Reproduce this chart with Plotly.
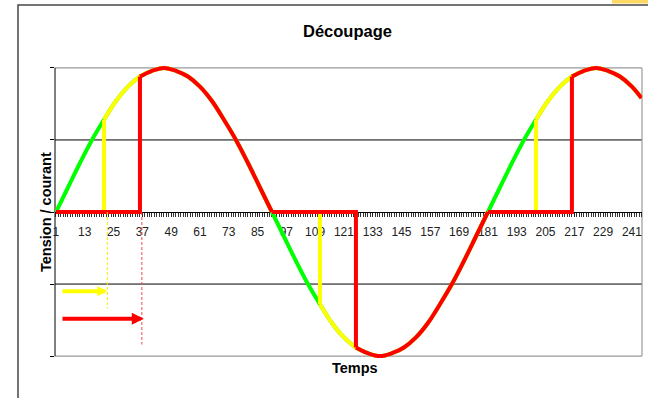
import plotly.graph_objects as go

# Onde de tension échantillonnée tous les 10° (5 catégories de temps)
temps = [1, 6, 11, 16, 21, 26, 31, 36, 41, 46, 51, 56, 61, 66, 71, 76, 81, 86,
         91, 96, 101, 106, 111, 116, 121, 126, 131, 136, 141, 146, 151, 156, 161, 166, 171, 176,
         181, 186, 191, 196, 201, 206, 211, 216, 221, 226, 231, 236, 241, 245]
tension = [0.00, 0.17, 0.34, 0.50, 0.64, 0.77, 0.87, 0.94, 0.98, 1.00, 0.98, 0.94, 0.87, 0.77, 0.64, 0.50, 0.34, 0.17,
           0.00, -0.17, -0.34, -0.50, -0.64, -0.77, -0.87, -0.94, -0.98, -1.00, -0.98, -0.94, -0.87, -0.77, -0.64, -0.50, -0.34, -0.17,
           0.00, 0.17, 0.34, 0.50, 0.64, 0.77, 0.87, 0.94, 0.98, 1.00, 0.98, 0.94, 0.87, 0.79]

# Graduations de l'axe des temps
graduations = [1, 13, 25, 37, 49, 61, 73, 85, 97, 109, 121, 133, 145, 157, 169, 181, 193, 205, 217, 229, 241]

DEMI_PERIODE = 90          # catégories par alternance
retard_jaune = 20          # amorçage à 40°
retard_rouge = 35          # amorçage à 70°


def decoupe(retard):
    """Sépare la tension découpée en paliers nuls (+ front d'amorçage) et portions d'onde."""
    pal_x, pal_y = [], []
    ond_x, ond_y = [], []
    for t, v in zip(temps, tension):
        phase = (t - 1) % DEMI_PERIODE
        if phase == 0 and ond_x:
            ond_x += [t, None]
            ond_y += [v, None]
        if phase < retard:
            pal_x.append(t)
            pal_y.append(0)
        elif phase == retard:
            pal_x += [t, t, None]
            pal_y += [0, v, None]
            ond_x.append(t)
            ond_y.append(v)
        else:
            ond_x.append(t)
            ond_y.append(v)
    return pal_x, pal_y, ond_x, ond_y


W, H = 648, 398
L, R, T, B = 55, 6, 65, 39
PW, PH = W - L - R, H - T - B


def px(x):
    return (x - L) / PW


def py(y):
    return (H - B - y) / PH


FONT = "Arial, Liberation Sans, sans-serif"

fig = go.Figure()

fig.add_trace(go.Scatter(x=temps, y=tension, mode="lines", line_shape="spline",
                         line=dict(color="#00FF00", width=4), name="Tension"))

for retard, couleur in ((retard_jaune, "#FFFF00"), (retard_rouge, "#FF0000")):
    pal_x, pal_y, ond_x, ond_y = decoupe(retard)
    fig.add_trace(go.Scatter(x=pal_x, y=pal_y, mode="lines", connectgaps=False,
                             line=dict(color=couleur, width=4)))
    fig.add_trace(go.Scatter(x=ond_x, y=ond_y, mode="lines", line_shape="spline",
                             connectgaps=False, line=dict(color=couleur, width=4)))

shapes = []
# cadre extérieur du graphique
shapes.append(dict(type="rect", xref="paper", yref="paper",
                   x0=px(18), x1=px(660), y0=py(410), y1=py(5),
                   line=dict(color="#474747", width=1.5), layer="below"))
shapes.append(dict(type="rect", xref="paper", yref="paper",
                   x0=px(612), x1=px(660), y0=py(3.5), y1=py(-2),
                   line=dict(width=0), fillcolor="#FFD966", layer="below"))
# quadrillage horizontal
for g in (-0.5, 0.5):
    shapes.append(dict(type="line", xref="paper", yref="y", x0=0, x1=1, y0=g, y1=g,
                       line=dict(color="black", width=1), layer="below"))
# bordure de la zone de traçage
for g in (-1, 1):
    shapes.append(dict(type="line", xref="paper", yref="y", x0=0, x1=1, y0=g, y1=g,
                       line=dict(color="#9A9A9A", width=1.2), layer="below"))
shapes.append(dict(type="line", xref="paper", yref="y", x0=1, x1=1, y0=-1, y1=1,
                   line=dict(color="#9A9A9A", width=1.2), layer="below"))
# axe vertical
shapes.append(dict(type="line", xref="paper", yref="y", x0=0, x1=0, y0=-1, y1=1,
                   line=dict(color="black", width=1), layer="below"))

# repères pointillés des instants d'amorçage
repere_jaune = 1 + retard_jaune + 1.4
repere_rouge = 1 + retard_rouge + 0.8
shapes.append(dict(type="line", xref="x", yref="y", x0=repere_jaune, x1=repere_jaune, y0=0, y1=-0.67,
                   line=dict(color="#F2EE00", width=1, dash="3px,2px")))
shapes.append(dict(type="line", xref="x", yref="y", x0=repere_rouge, x1=repere_rouge, y0=0, y1=-0.92,
                   line=dict(color="#F04848", width=1, dash="3px,2px")))

annotations = [
    dict(text="<b>Découpage</b>", xref="paper", yref="paper", x=px(347), y=py(31),
         xanchor="center", yanchor="middle", showarrow=False,
         font=dict(family=FONT, size=16.5, color="black")),
    dict(text="<b>Tension / courant</b>", xref="paper", yref="paper", x=px(46), y=0.5,
         xanchor="center", yanchor="middle", textangle=-90, showarrow=False,
         font=dict(family=FONT, size=14.5, color="black")),
    dict(text="<b>Temps</b>", xref="paper", yref="paper", x=px(355), y=py(368),
         xanchor="center", yanchor="middle", showarrow=False,
         font=dict(family=FONT, size=14.5, color="black")),
    # flèches du retard à l'amorçage
    dict(text="", x=repere_jaune, y=-0.55, ax=3.1, ay=-0.55, xref="x", yref="y",
         axref="x", ayref="y", showarrow=True, arrowhead=2, arrowsize=0.5,
         arrowwidth=4, arrowcolor="#FFFF00", standoff=0),
    dict(text="", x=repere_rouge + 0.8, y=-0.74, ax=3.1, ay=-0.74, xref="x", yref="y",
         axref="x", ayref="y", showarrow=True, arrowhead=2, arrowsize=0.6,
         arrowwidth=4, arrowcolor="#FF0000", standoff=0),
]

fig.update_layout(
    width=W, height=H,
    margin=dict(l=L, r=R, t=T, b=B, pad=0),
    paper_bgcolor="white", plot_bgcolor="rgba(0,0,0,0)",
    showlegend=False,
    font=dict(family=FONT, size=12, color="black"),
    shapes=shapes, annotations=annotations,
    xaxis=dict(range=[0.6, 245.2], anchor="free", position=0.5,
               tickmode="array", tickvals=graduations, ticktext=[str(g) for g in graduations],
               ticks="outside", ticklen=4, tickcolor="#222", tickwidth=1,
               ticklabelstandoff=5,
               minor=dict(tickmode="linear", tick0=1, dtick=1, ticks="outside",
                          ticklen=4, tickcolor="#333", tickwidth=1, showgrid=False),
               showline=True, linecolor="black", linewidth=1,
               showgrid=False, zeroline=False, layer="below traces",
               tickfont=dict(family=FONT, size=12, color="#222")),
    yaxis=dict(range=[-1.02, 1.02], tickmode="array", tickvals=[-1, -0.5, 0, 0.5, 1],
               ticks="outside", ticklen=4, tickcolor="black", showticklabels=False,
               showline=False, showgrid=False, zeroline=False),
)

fig.write_html("out.html")
